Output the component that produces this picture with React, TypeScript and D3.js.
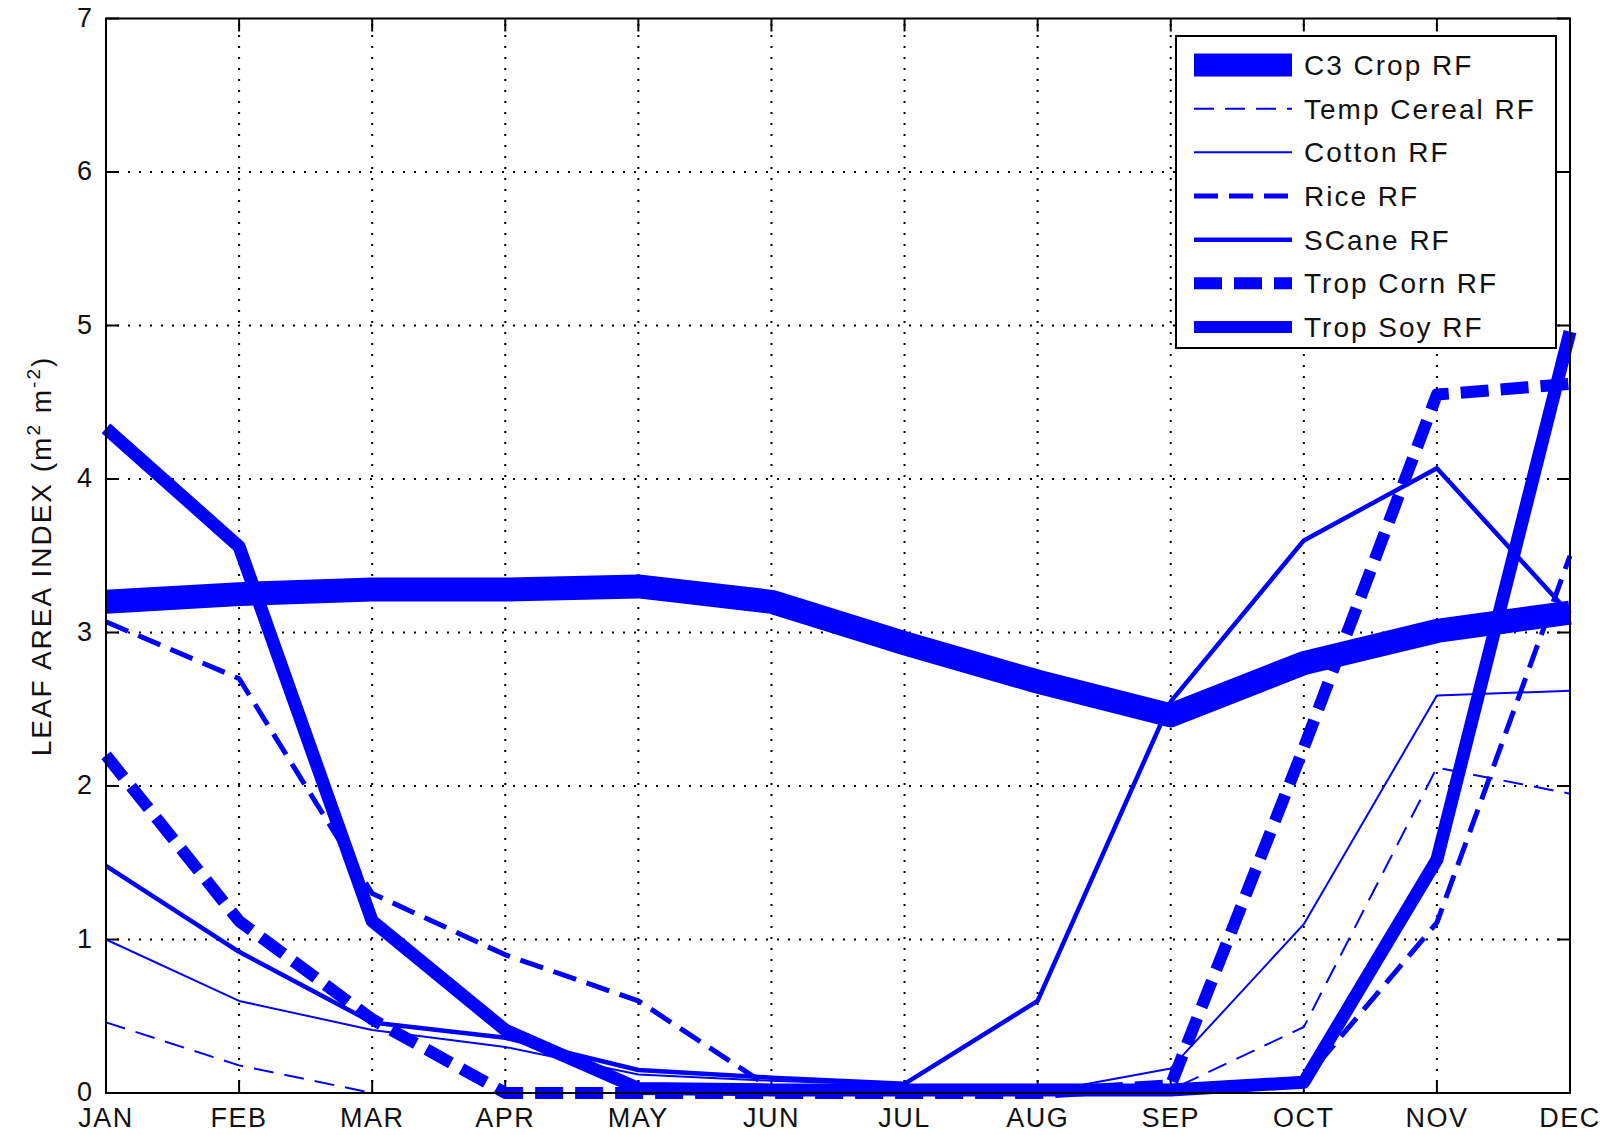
import React, {useEffect, useRef} from 'react';
import * as d3 from 'd3';

// monthly leaf area index values
const months = ['JAN', 'FEB', 'MAR', 'APR', 'MAY', 'JUN', 'JUL', 'AUG', 'SEP', 'OCT', 'NOV', 'DEC'];
const yTicks = [0, 1, 2, 3, 4, 5, 6, 7];

const c3Crop = [3.2, 3.25, 3.28, 3.28, 3.3, 3.2, 2.93, 2.68, 2.46, 2.8, 3.01, 3.13];
const tempCereal = [0.46, 0.18, 0.0, 0, 0, 0, 0, 0, 0.02, 0.43, 2.12, 1.95];
const cotton = [1.0, 0.6, 0.41, 0.3, 0.12, 0.08, 0.05, 0.0, 0.16, 1.1, 2.59, 2.62];
const rice = [3.07, 2.7, 1.3, 0.9, 0.6, 0.03, 0, 0, 0, 0.08, 1.11, 3.5];
const sCane = [1.48, 0.92, 0.46, 0.36, 0.15, 0.1, 0.06, 0.6, 2.55, 3.6, 4.07, 3.12];
const tropCorn = [2.2, 1.12, 0.48, 0, 0, 0, 0, 0, 0.05, 2.25, 4.55, 4.62];
const tropSoy = [4.33, 3.56, 1.12, 0.41, 0.03, 0.02, 0.02, 0.02, 0.02, 0.07, 1.52, 4.96];

const seriesNames = ['C3 Crop RF', 'Temp Cereal RF', 'Cotton RF', 'Rice RF', 'SCane RF', 'Trop Corn RF', 'Trop Soy RF'];
const seriesValues = [c3Crop, tempCereal, cotton, rice, sCane, tropCorn, tropSoy];
const seriesWidths = [24, 2, 2, 5, 4.5, 12, 13];
const legendWidths = [23, 2, 2, 5, 4.5, 12, 12];
const seriesDash = [null, '20 11', null, '24 11', null, '28 12', null];

export default function App() {
    const svgRef = useRef<SVGSVGElement>(null);

    useEffect(() => {
        const svg = d3.select(svgRef.current);
        svg.selectAll('*').remove();
        const width = 1614, height = 1135;
        const left = 106, right = 1570, top = 18.5, bottom = 1093;
        const font = 'Arial, "Liberation Sans", sans-serif';
        const blue = '#0000ff';

        svg.append('rect').attr('width', width).attr('height', height).attr('fill', 'white');

        const x = d3.scalePoint<string>().domain(months).range([left, right]);
        const y = d3.scaleLinear().domain([0, 7]).range([bottom, top]);

        // dotted grid
        const grid = svg.append('g')
            .attr('stroke', 'black')
            .attr('stroke-width', 2)
            .attr('stroke-dasharray', '2 9');
        grid.selectAll('.gx')
            .data(months.slice(1, -1))
            .join('line')
            .attr('x1', d => x(d)!).attr('x2', d => x(d)!)
            .attr('y1', bottom).attr('y2', top);
        grid.selectAll('.gy')
            .data(yTicks.slice(1, -1))
            .join('line')
            .attr('class', 'gy')
            .attr('x1', left).attr('x2', right)
            .attr('y1', d => y(d)).attr('y2', d => y(d));

        // inward ticks on all four sides
        const tickLen = 13;
        const ticks = svg.append('g').attr('stroke', 'black').attr('stroke-width', 2);
        months.forEach(m => {
            ticks.append('line').attr('x1', x(m)!).attr('x2', x(m)!).attr('y1', bottom).attr('y2', bottom - tickLen);
            ticks.append('line').attr('x1', x(m)!).attr('x2', x(m)!).attr('y1', top).attr('y2', top + tickLen);
        });
        yTicks.forEach(v => {
            ticks.append('line').attr('x1', left).attr('x2', left + tickLen).attr('y1', y(v)).attr('y2', y(v));
            ticks.append('line').attr('x1', right).attr('x2', right - tickLen).attr('y1', y(v)).attr('y2', y(v));
        });

        const line = d3.line<number>()
            .x((d, i) => x(months[i])!)
            .y(d => y(d));

        svg.append('g')
            .selectAll('path')
            .data(seriesValues)
            .join('path')
            .attr('d', d => line(d))
            .attr('fill', 'none')
            .attr('stroke', blue)
            .attr('stroke-width', (d, i) => seriesWidths[i])
            .attr('stroke-dasharray', (d, i) => seriesDash[i])
            .attr('stroke-linejoin', 'round');

        // axes box
        svg.append('rect')
            .attr('x', left).attr('y', top)
            .attr('width', right - left).attr('height', bottom - top)
            .attr('fill', 'none').attr('stroke', 'black').attr('stroke-width', 2);

        // tick labels
        svg.append('g')
            .selectAll('text')
            .data(months)
            .join('text')
            .attr('x', d => x(d)!)
            .attr('y', 1127)
            .attr('text-anchor', 'middle')
            .attr('font-family', font)
            .attr('font-size', 27)
            .attr('letter-spacing', 1.5)
            .attr('fill', '#111')
            .text(d => d);
        svg.append('g')
            .selectAll('text')
            .data(yTicks)
            .join('text')
            .attr('x', 92)
            .attr('y', d => y(d) + 8)
            .attr('text-anchor', 'end')
            .attr('font-family', font)
            .attr('font-size', 27)
            .attr('fill', '#111')
            .text(d => d);

        // y axis title
        const yt = svg.append('text')
            .attr('transform', 'translate(51,556) rotate(-90)')
            .attr('text-anchor', 'middle')
            .attr('font-family', font)
            .attr('font-size', 28)
            .attr('letter-spacing', 2)
            .attr('fill', '#111');
        yt.append('tspan').text('LEAF AREA INDEX (m');
        yt.append('tspan').attr('font-size', 19).attr('dy', -11).text('2');
        yt.append('tspan').attr('dy', 11).text(' m');
        yt.append('tspan').attr('font-size', 19).attr('dy', -11).text('-2');
        yt.append('tspan').attr('dy', 11).text(')');

        // legend
        const lg = svg.append('g');
        lg.append('rect')
            .attr('x', 1176).attr('y', 36)
            .attr('width', 380).attr('height', 312)
            .attr('fill', 'white').attr('stroke', 'black').attr('stroke-width', 2);
        const rowY = d3.scaleLinear().domain([0, seriesNames.length - 1]).range([65, 327]);
        seriesNames.forEach((name, i) => {
            lg.append('line')
                .attr('x1', 1194).attr('x2', 1292)
                .attr('y1', rowY(i)).attr('y2', rowY(i))
                .attr('stroke', blue)
                .attr('stroke-width', legendWidths[i])
                .attr('stroke-dasharray', seriesDash[i]);
            lg.append('text')
                .attr('x', 1304).attr('y', rowY(i) + 10)
                .attr('font-family', font)
                .attr('font-size', 28)
                .attr('letter-spacing', 2)
                .attr('fill', '#111')
                .text(name);
        });
    }, []);

    return (
        <svg ref={svgRef} width={1614} height={1135}
             style={{position: 'absolute', left: 0, top: 0, display: 'block'}}/>
    );
}
